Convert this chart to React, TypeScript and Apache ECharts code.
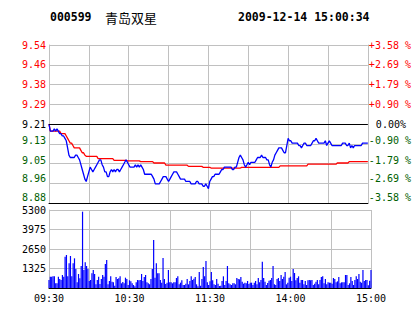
import React, { useEffect, useRef } from 'react';
import * as echarts from 'echarts';

// Minute categories of the trading day: 09:30-11:30, 13:01-15:00
const SESSIONS: [number, number][] = [[570, 690], [781, 900]];
const TIMES: string[] = [];
for (const [a, b] of SESSIONS) {
  for (let m = a; m <= b; m++) {
    const h = Math.floor(m / 60);
    const mm = m % 60;
    TIMES.push(`${String(h).padStart(2, '0')}:${String(mm).padStart(2, '0')}`);
  }
}

const X_LABELS = ['09:30', '10:30', '11:30', '14:00', '15:00'];
const LEFT_LABELS = ['8.88', '8.96', '9.05', '9.13', '9.21', '9.29', '9.38', '9.46', '9.54'];
const RIGHT_LABELS = ['-3.58 %', '-2.69 %', '-1.79 %', '-0.90 %', '0.00%', '+0.90 %', '+1.79 %', '+2.69 %', '+3.58 %'];
const PRE_CLOSE = 9.21;
const PRICE_MIN = 8.88;
const PRICE_MAX = 9.54;
const VOL_MAX = 5300;
const VOL_STEP = 1325;

const PRICE = [
  9.21, 9.18, 9.18, 9.18, 9.19, 9.18, 9.19, 9.18, 9.17, 9.17,
  9.16, 9.16, 9.15, 9.14, 9.11, 9.08, 9.07, 9.07, 9.07, 9.07,
  9.08, 9.08, 9.07, 9.06, 9.04, 9.02, 9.00, 8.98, 8.97, 8.99,
  9.01, 9.03, 9.02, 9.01, 9.02, 9.03, 9.04, 9.05, 9.06, 9.06,
  9.04, 9.03, 9.01, 9.01, 8.99, 8.99, 9.01, 9.02, 9.01, 9.02,
  9.01, 9.02, 9.02, 9.01, 9.02, 9.03, 9.04, 9.05, 9.06, 9.05,
  9.04, 9.03, 9.03, 9.03, 9.03, 9.04, 9.03, 9.04, 9.03, 9.04,
  9.03, 9.02, 9.00, 9.00, 9.00, 9.00, 9.00, 9.00, 8.99, 8.98,
  8.96, 8.96, 8.96, 8.96, 8.97, 8.98, 8.99, 8.99, 8.99, 8.98,
  8.97, 8.98, 8.99, 9.00, 9.01, 9.01, 9.01, 9.00, 8.99, 8.98,
  8.98, 8.98, 8.98, 8.97, 8.97, 8.97, 8.97, 8.96, 8.96, 8.96,
  8.96, 8.97, 8.97, 8.96, 8.96, 8.96, 8.95, 8.95, 8.96, 8.95,
  8.94,
  8.97, 8.98, 8.99, 8.99, 9.00, 9.00, 9.00, 9.00, 9.01, 9.02,
  9.02, 9.03, 9.03, 9.03, 9.03, 9.03, 9.03, 9.02, 9.02, 9.03,
  9.03, 9.05, 9.07, 9.08, 9.07, 9.06, 9.04, 9.03, 9.04, 9.05,
  9.04, 9.05, 9.05, 9.05, 9.05, 9.06, 9.07, 9.07, 9.07, 9.08,
  9.07, 9.07, 9.07, 9.06, 9.06, 9.04, 9.03, 9.05, 9.06, 9.08,
  9.09, 9.10, 9.11, 9.11, 9.11, 9.10, 9.09, 9.09, 9.12, 9.15,
  9.14, 9.14, 9.13, 9.13, 9.13, 9.13, 9.13, 9.12, 9.12, 9.11,
  9.12, 9.13, 9.13, 9.12, 9.12, 9.12, 9.12, 9.13, 9.14, 9.14,
  9.15, 9.14, 9.13, 9.13, 9.13, 9.13, 9.13, 9.14, 9.12, 9.13,
  9.14, 9.13, 9.12, 9.12, 9.12, 9.12, 9.12, 9.12, 9.12, 9.12,
  9.13, 9.13, 9.13, 9.12, 9.12, 9.13, 9.11, 9.12, 9.11, 9.12,
  9.12, 9.12, 9.12, 9.12, 9.12, 9.13, 9.13, 9.13, 9.13, 9.13,
];

const AVG = [
  9.21, 9.18, 9.18, 9.18, 9.18, 9.18, 9.18, 9.18, 9.18, 9.17,
  9.17, 9.17, 9.17, 9.16, 9.15, 9.14, 9.13, 9.13, 9.12, 9.11,
  9.11, 9.11, 9.11, 9.11, 9.10, 9.09, 9.09, 9.08, 9.075, 9.075,
  9.075, 9.075, 9.075, 9.075, 9.075, 9.075, 9.075, 9.065, 9.065, 9.065,
  9.065, 9.065, 9.065, 9.065, 9.065, 9.065, 9.065, 9.065, 9.065, 9.058,
  9.058, 9.058, 9.058, 9.058, 9.058, 9.058, 9.058, 9.058, 9.058, 9.056,
  9.056, 9.056, 9.056, 9.056, 9.056, 9.056, 9.056, 9.056, 9.056, 9.053,
  9.053, 9.053, 9.053, 9.053, 9.053, 9.053, 9.053, 9.053, 9.053, 9.047,
  9.047, 9.047, 9.047, 9.047, 9.047, 9.047, 9.047, 9.047, 9.038, 9.038,
  9.038, 9.038, 9.038, 9.038, 9.038, 9.038, 9.038, 9.038, 9.038, 9.038,
  9.038, 9.038, 9.038, 9.038, 9.038, 9.033, 9.033, 9.033, 9.033, 9.033,
  9.033, 9.033, 9.033, 9.033, 9.033, 9.033, 9.029, 9.029, 9.029, 9.029,
  9.029, 9.029, 9.026, 9.026, 9.026, 9.026, 9.026, 9.026, 9.026, 9.026,
  9.026, 9.026, 9.026, 9.026, 9.026, 9.026, 9.026, 9.026, 9.026, 9.026,
  9.026, 9.026, 9.026, 9.026, 9.026, 9.029, 9.029, 9.029, 9.029, 9.029,
  9.029, 9.029, 9.029, 9.029, 9.029, 9.029, 9.029, 9.029, 9.029, 9.029,
  9.029, 9.029, 9.029, 9.029, 9.029, 9.029, 9.029, 9.029, 9.029, 9.029,
  9.029, 9.029, 9.029, 9.029, 9.035, 9.035, 9.035, 9.035, 9.035, 9.035,
  9.035, 9.035, 9.035, 9.035, 9.035, 9.035, 9.035, 9.035, 9.035, 9.035,
  9.035, 9.035, 9.035, 9.035, 9.035, 9.042, 9.042, 9.042, 9.042, 9.042,
  9.042, 9.042, 9.042, 9.042, 9.042, 9.042, 9.042, 9.042, 9.042, 9.042,
  9.042, 9.042, 9.042, 9.042, 9.042, 9.042, 9.042, 9.047, 9.047, 9.047,
  9.047, 9.047, 9.047, 9.047, 9.047, 9.047, 9.053, 9.053, 9.053, 9.053,
  9.053, 9.053, 9.053, 9.053, 9.053, 9.053, 9.053, 9.053, 9.053, 9.053,
  9.053,
];

const VOLUME = [
  544, 770, 770, 793, 793, 317, 317, 770, 612, 544,
  883, 770, 2129, 2242, 793, 1676, 2174, 793, 1676, 2016,
  1291, 385, 951, 657, 1495, 5187, 1223, 1744, 1495, 1291,
  476, 544, 997, 1223, 951, 249, 544, 770, 272, 612,
  883, 770, 1631, 1903, 249, 476, 793, 430, 385, 159,
  747, 612, 657, 793, 317, 408, 317, 702, 612, 204,
  521, 453, 317, 204, 113, 385, 544, 521, 544, 951,
  476, 747, 883, 385, 317, 249, 612, 1291, 3262, 702,
  1676, 997, 997, 544, 362, 2038, 612, 272, 362, 1223,
  385, 385, 317, 385, 385, 680, 793, 249, 362, 521,
  204, 204, 294, 612, 249, 476, 793, 544, 634, 747,
  249, 113, 1087, 159, 612, 1427, 793, 1835, 385, 204, 453,
  1087, 521, 249, 200, 612, 294, 136, 150, 476, 793,
  200, 476, 1495, 317, 249, 204, 317, 317, 250, 680,
  612, 589, 747, 430, 294, 362, 317, 476, 272, 362,
  362, 204, 362, 476, 249, 680, 385, 544, 1790, 680,
  430, 204, 340, 498, 544, 680, 1495, 249, 204, 612,
  680, 476, 883, 612, 770, 1087, 249, 362, 702, 770,
  476, 1291, 1019, 521, 680, 793, 362, 544, 544, 249,
  476, 204, 521, 544, 521, 544, 204, 294, 430, 544,
  249, 544, 747, 793, 317, 612, 249, 385, 362, 362,
  294, 680, 612, 385, 453, 747, 317, 385, 385, 385,
  883, 883, 204, 317, 747, 476, 204, 544, 793, 612,
  951, 430, 362, 1223, 476, 544, 544, 181, 500, 1223,
];

const MONO = 'DejaVu Sans Mono';
const GRID_C = '#c0c0c0';
const RED = '#ff0000';
const GREEN = '#006000';
const BLUE = '#0000ff';

// label class per tick index (0 = bottom): lower labels sit slightly above their lines
const CLASSES = ['g4', 'g3', 'g2', 'g1', 'k', 'r', 'r', 'r', 'r'];

function richFor(txt: any, zeroPad: number) {
  return {
    r: { ...txt, color: RED },
    k: { ...txt, color: '#000', padding: [0, 0, 0, zeroPad] },
    g1: { ...txt, color: GREEN, padding: [0, 0, 6, 0] },
    g2: { ...txt, color: GREEN, padding: [0, 0, 7, 0] },
    g3: { ...txt, color: GREEN, padding: [0, 0, 9, 0] },
    g4: { ...txt, color: GREEN, padding: [0, 0, 12, 0] },
  };
}

function buildOption(): any {
  const txt = { fontFamily: MONO, fontSize: 10 };
  const xBase = (gridIndex: number) => ({
    type: 'category',
    gridIndex,
    data: TIMES,
    boundaryGap: false,
    axisLine: { show: true, onZero: false, lineStyle: { color: '#000', width: 1 } },
    axisTick: { show: false },
    splitLine: {
      show: true,
      interval: (i: number) => i % 30 === 0,
      lineStyle: { color: GRID_C, width: 1 },
    },
  });
  return {
    animation: false,
    backgroundColor: '#ffffff',
    graphic: [
      { type: 'text', x: 50, y: 17, style: { text: '000599', font: `bold 11.5px "${MONO}"`, fill: '#000', verticalAlign: 'middle' } },
      { type: 'text', x: 105, y: 17, style: { text: '青岛双星', font: '13px "Noto Sans CJK SC"', fill: '#000', verticalAlign: 'middle' } },
      { type: 'text', x: 238, y: 17, style: { text: '2009-12-14 15:00:34', font: `bold 11.5px "${MONO}"`, fill: '#000', verticalAlign: 'middle' } },
    ],
    grid: [
      { left: 49, right: 43, top: 45, height: 158 },
      { left: 49, right: 43, top: 210, height: 78 },
    ],
    xAxis: [
      { ...xBase(0), axisLabel: { show: false } },
      {
        ...xBase(1),
        axisLabel: {
          ...txt,
          color: '#000',
          margin: 5,
          showMinLabel: true,
          showMaxLabel: true,
          interval: (_i: number, v: string) => X_LABELS.includes(v),
        },
      },
    ],
    yAxis: [
      { type: 'value', gridIndex: 0, min: PRICE_MIN, max: PRICE_MAX, show: false },
      {
        type: 'value', gridIndex: 0, position: 'left', min: 0, max: 8, interval: 1,
        axisLine: { show: true, lineStyle: { color: GRID_C } },
        axisTick: { show: false },
        splitLine: { show: true, lineStyle: { color: GRID_C } },
        axisLabel: {
          margin: 3,
          formatter: (v: number) => {
            const k = Math.round(v);
            return `{${CLASSES[k]}|${LEFT_LABELS[k]}}`;
          },
          rich: richFor(txt, 0),
        },
      },
      {
        type: 'value', gridIndex: 0, position: 'right', min: 0, max: 8, interval: 1,
        axisLine: { show: true, lineStyle: { color: GRID_C } },
        axisTick: { show: false },
        splitLine: { show: false },
        axisLabel: {
          margin: 1,
          formatter: (v: number) => {
            const k = Math.round(v);
            return `{${CLASSES[k]}|${RIGHT_LABELS[k]}}`;
          },
          rich: richFor(txt, 7),
        },
      },
      {
        type: 'value', gridIndex: 1, min: 0, max: VOL_MAX, interval: VOL_STEP,
        axisLine: { show: true, lineStyle: { color: GRID_C } },
        axisTick: { show: false },
        splitLine: { show: true, lineStyle: { color: GRID_C } },
        axisLabel: {
          ...txt,
          color: '#000',
          margin: 3,
          padding: [6, 0, 0, 0],
          formatter: (v: number) => (v === 0 ? '' : String(v)),
        },
      },
    ],
    series: [
      {
        name: 'avg', type: 'line', xAxisIndex: 0, yAxisIndex: 0, data: AVG,
        symbol: 'none', showSymbol: false, silent: true,
        lineStyle: { color: RED, width: 1.3 }, itemStyle: { color: RED },
      },
      {
        name: 'price', type: 'line', xAxisIndex: 0, yAxisIndex: 0, data: PRICE,
        symbol: 'none', showSymbol: false, silent: true,
        lineStyle: { color: BLUE, width: 1.3 }, itemStyle: { color: BLUE },
        markLine: {
          silent: true, symbol: 'none', label: { show: false },
          lineStyle: { color: '#000', type: 'solid', width: 1 },
          emphasis: { disabled: true },
          data: [{ yAxis: PRE_CLOSE }, { yAxis: PRICE_MIN }],
        },
      },
      {
        name: 'volume', type: 'bar', xAxisIndex: 1, yAxisIndex: 3, data: VOLUME,
        barWidth: 1.2, silent: true,
        itemStyle: { color: BLUE },
        markLine: {
          silent: true, symbol: 'none', label: { show: false },
          lineStyle: { color: '#000', type: 'solid', width: 1 },
          emphasis: { disabled: true },
          data: [{ yAxis: 0 }],
        },
      },
    ],
  };
}

export default function App() {
  const ref = useRef<HTMLDivElement>(null);
  useEffect(() => {
    if (!ref.current) return;
    const chart = echarts.init(ref.current, null, { renderer: 'svg' });
    chart.setOption(buildOption());
    return () => chart.dispose();
  }, []);
  return (
    <div
      ref={ref}
      style={{ position: 'fixed', left: 0, top: 0, width: 414, height: 314, background: '#fff' }}
    />
  );
}
